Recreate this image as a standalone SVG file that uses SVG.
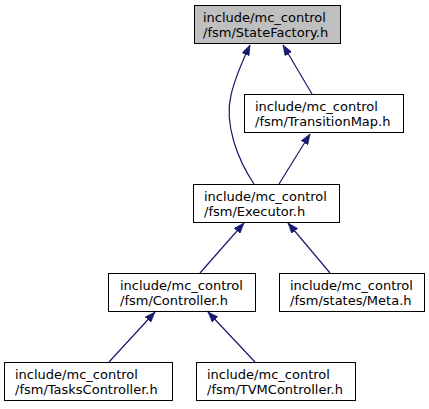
<svg xmlns="http://www.w3.org/2000/svg" width="429" height="409" viewBox="0 0 429 409">
<style>
.box{fill:#ffffff;stroke:#000000;stroke-width:1}
.root{fill:#bfbfbf}
text{font-family:"DejaVu Sans",sans-serif;font-size:13px;fill:#000000}
.edge{fill:none;stroke:#191970;stroke-width:1.2}
</style>
<defs>
<marker id="arr" markerUnits="userSpaceOnUse" markerWidth="11" markerHeight="8" refX="10.5" refY="4" orient="auto">
<path d="M0,0 L10.5,4 L0,8 z" fill="#191970" stroke="#191970" stroke-width="0.5"/>
</marker>
</defs>
<rect width="429" height="409" fill="#ffffff"/>
<g id="edges">
<path class="edge" marker-end="url(#arr)" d="M312,94 L283,45"/>
<path class="edge" marker-end="url(#arr)" d="M254,184 C238,160 224,125 231,95 C235,78 242,62 250,45"/>
<path class="edge" marker-end="url(#arr)" d="M279,184 L310,134"/>
<path class="edge" marker-end="url(#arr)" d="M200,273 L244,223"/>
<path class="edge" marker-end="url(#arr)" d="M330,273 L288,223"/>
<path class="edge" marker-end="url(#arr)" d="M109,362 L155,312"/>
<path class="edge" marker-end="url(#arr)" d="M255,362 L208,312"/>
</g>
<g id="StateFactory">
<rect class="box root" x="194.5" y="5.5" width="146" height="38"/>
<text x="203" y="22">include/mc_control</text>
<text x="203" y="37">/fsm/StateFactory.h</text>
</g>
<g id="TransitionMap">
<rect class="box" x="244.5" y="94.5" width="159" height="38"/>
<text x="255" y="111">include/mc_control</text>
<text x="255" y="126">/fsm/TransitionMap.h</text>
</g>
<g id="Executor">
<rect class="box" x="193.5" y="184.5" width="146" height="38"/>
<text x="204" y="201">include/mc_control</text>
<text x="204" y="216">/fsm/Executor.h</text>
</g>
<g id="Controller">
<rect class="box" x="108.5" y="273.5" width="147" height="38"/>
<text x="120" y="290">include/mc_control</text>
<text x="120" y="305">/fsm/Controller.h</text>
</g>
<g id="Meta">
<rect class="box" x="279.5" y="273.5" width="145" height="38"/>
<text x="290" y="290">include/mc_control</text>
<text x="290" y="305">/fsm/states/Meta.h</text>
</g>
<g id="TasksController">
<rect class="box" x="4.5" y="362.5" width="168" height="38"/>
<text x="15" y="379">include/mc_control</text>
<text x="15" y="394">/fsm/TasksController.h</text>
</g>
<g id="TVMController">
<rect class="box" x="196.5" y="362.5" width="159" height="38"/>
<text x="207" y="379">include/mc_control</text>
<text x="207" y="394">/fsm/TVMController.h</text>
</g>
</svg>
